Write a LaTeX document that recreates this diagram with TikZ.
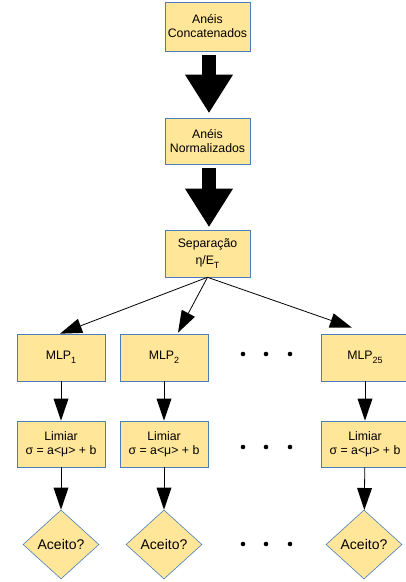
\documentclass[tikz,border=0pt]{standalone}
\usepackage{fontspec}
\setmainfont{Liberation Sans}
\usetikzlibrary{shapes.geometric,arrows.meta}
\definecolor{boxfill}{HTML}{FFE699}
\definecolor{boxline}{HTML}{4A7EBB}
\newcommand\lowsub[1]{\raisebox{-3.5pt}{\fontsize{9}{9}\selectfont #1}}
\begin{document}
\begin{tikzpicture}[x=1pt,y=1pt,
  box/.style={draw=boxline, fill=boxfill, line width=0.6pt, minimum width=85pt,
    minimum height=47pt, inner sep=0pt, align=center, font=\fontsize{12.3}{14}\selectfont},
  mbox/.style={box, minimum width=88pt},
  dia/.style={diamond, draw=boxline, fill=boxfill, line width=0.6pt, minimum width=76pt,
    minimum height=69pt, inner sep=0pt, font=\fontsize{14}{16}\selectfont},
  bigarrow/.style={line width=14pt, -{Triangle[width=48pt,length=38pt,line width=0pt]}},
  arr/.style={line width=0.8pt, -{Triangle[width=15pt,length=22pt,line width=0pt]}}]
\useasboundingbox (0,0) rectangle (406,582);
\node[box, minimum height=49pt] (c1) at (207.5,555.5) {Anéis\\Concatenados};
\node[box, minimum height=46pt] (c2) at (207.5,441) {Anéis\\Normalizados};
\node[box] (c3) at (207.5,328.5) {Separação\\[3pt]η/E\lowsub{T}};
\node[mbox] (m1) at (61,224.5) {MLP\lowsub{1}};
\node[mbox] (m2) at (164,224.5) {MLP\lowsub{2}};
\node[mbox] (m3) at (365,224.5) {MLP\lowsub{25}};
\node[mbox, minimum height=46pt] (l1) at (61,138) {Limiar\\σ = a<μ> + b};
\node[mbox, minimum height=46pt] (l2) at (164,138) {Limiar\\σ = a<μ> + b};
\node[mbox, minimum height=46pt] (l3) at (365,138) {Limiar\\σ = a<μ> + b};
\node[dia] (d1) at (61,37.5) {Aceito?};
\node[dia] (d2) at (164,37.5) {Aceito?};
\node[dia] (d3) at (364,37.5) {Aceito?};
\draw[bigarrow] ([xshift=1.5pt,yshift=-4pt]c1.south) -- ([xshift=1.5pt,yshift=5pt]c2.north);
\draw[bigarrow] ([xshift=1.5pt,yshift=-4pt]c2.south) -- ([xshift=1.5pt,yshift=3pt]c3.north);
\draw[arr] (c3.south) -- ([xshift=-1pt]m1.north);
\draw[arr] (c3.south) -- ([xshift=14pt,yshift=1pt]m2.north);
\draw[arr] (c3.south) -- ([xshift=-13pt,yshift=6pt]m3.north);
\foreach \a in {1,2,3}{
  \draw[arr] (m\a) -- (l\a);
  \draw[arr] (l\a) -- (d\a);
}
\foreach \y in {228,135,38}{
  \foreach \x in {243,266,290}{
    \fill (\x,\y) circle (2.3pt);
  }
}
\end{tikzpicture}
\end{document}
